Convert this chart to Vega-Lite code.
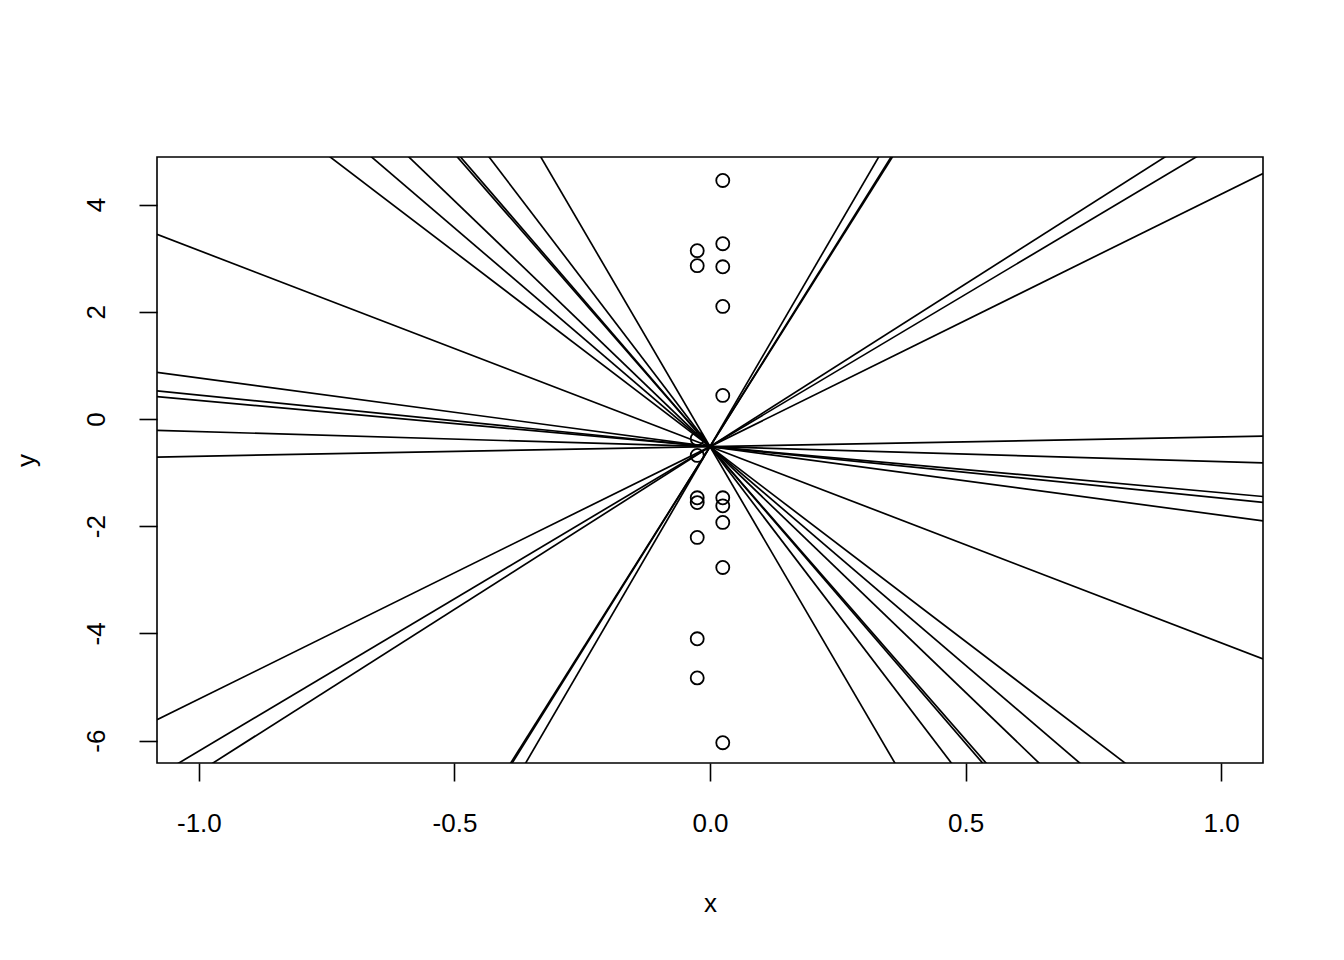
{
  "$schema": "https://vega.github.io/schema/vega-lite/v6.json",
  "width": 1106,
  "height": 606,
  "autosize": "none",
  "padding": {"left": 157, "top": 157, "right": 81, "bottom": 197},
  "background": "white",
  "config": {
    "view": {"stroke": "black", "strokeWidth": 1.6},
    "font": "Liberation Sans",
    "axis": {
      "domain": false,
      "grid": false,
      "ticks": true,
      "tickColor": "black",
      "tickWidth": 1.6,
      "tickSize": 18,
      "labelColor": "black",
      "labelFont": "Liberation Sans",
      "labelFontSize": 26,
      "titleFont": "Liberation Sans",
      "titleFontSize": 26,
      "titleFontWeight": "normal",
      "titleColor": "black"
    }
  },
  "datasets": {
    "pts": [
      {"x": 0.025, "y": 4.45}, {"x": 0.025, "y": 3.27}, {"x": 0.025, "y": 2.84}, {"x": 0.025, "y": 2.10},
      {"x": 0.025, "y": 0.44}, {"x": 0.025, "y": -1.47}, {"x": 0.025, "y": -1.62}, {"x": 0.025, "y": -1.93},
      {"x": 0.025, "y": -2.77}, {"x": 0.025, "y": -6.04},
      {"x": -0.025, "y": 3.14}, {"x": -0.025, "y": 2.86}, {"x": -0.025, "y": -0.37}, {"x": -0.025, "y": -0.68},
      {"x": -0.025, "y": -1.47}, {"x": -0.025, "y": -1.56}, {"x": -0.025, "y": -2.21}, {"x": -0.025, "y": -4.10},
      {"x": -0.025, "y": -4.83}
    ],
    "lines": [
      {"id": 1, "xa": -1.082, "ya": 7.351, "xb": 1.082, "yb": -8.381},
      {"id": 2, "xa": -1.082, "ya": 8.314, "xb": 1.082, "yb": -9.344},
      {"id": 3, "xa": -1.082, "ya": 9.407, "xb": 1.082, "yb": -10.437},
      {"id": 4, "xa": -1.082, "ya": 11.311, "xb": 1.082, "yb": -12.341},
      {"id": 5, "xa": -1.082, "ya": 11.463, "xb": 1.082, "yb": -12.493},
      {"id": 6, "xa": -1.082, "ya": 13.010, "xb": 1.082, "yb": -14.040},
      {"id": 7, "xa": -1.082, "ya": 17.143, "xb": 1.082, "yb": -18.173},
      {"id": 8, "xa": -1.082, "ya": -18.227, "xb": 1.082, "yb": 17.197},
      {"id": 9, "xa": -1.082, "ya": -16.896, "xb": 1.082, "yb": 15.866},
      {"id": 10, "xa": -1.082, "ya": -17.016, "xb": 1.082, "yb": 15.986},
      {"id": 11, "xa": -1.082, "ya": 3.445, "xb": 1.082, "yb": -4.475},
      {"id": 12, "xa": -1.082, "ya": 0.870, "xb": 1.082, "yb": -1.900},
      {"id": 13, "xa": -1.082, "ya": 0.524, "xb": 1.082, "yb": -1.554},
      {"id": 14, "xa": -1.082, "ya": 0.416, "xb": 1.082, "yb": -1.446},
      {"id": 15, "xa": -1.082, "ya": -0.212, "xb": 1.082, "yb": -0.818},
      {"id": 16, "xa": -1.082, "ya": -0.710, "xb": 1.082, "yb": -0.320},
      {"id": 17, "xa": -1.082, "ya": -5.611, "xb": 1.082, "yb": 4.581},
      {"id": 18, "xa": -1.082, "ya": -6.661, "xb": 1.082, "yb": 5.631},
      {"id": 19, "xa": -1.082, "ya": -7.083, "xb": 1.082, "yb": 6.053}
    ]
  },
  "layer": [
    {
      "data": {"name": "lines"},
      "mark": {"type": "rule", "clip": true, "color": "black", "strokeWidth": 1.7},
      "encoding": {
        "x": {"field": "xa", "type": "quantitative",
              "scale": {"domain": [-1.082, 1.082], "nice": false, "zero": false},
              "axis": {"values": [-1, -0.5, 0, 0.5, 1], "labelExpr": "replace(format(datum.value, '.1f'), '\u2212', '-')",
                       "title": "x", "labelPadding": 29, "titlePadding": 54}},
        "x2": {"field": "xb"},
        "y": {"field": "ya", "type": "quantitative",
              "scale": {"domain": [-6.418, 4.888], "nice": false, "zero": false},
              "axis": {"values": [-6, -4, -2, 0, 2, 4], "labelExpr": "replace(format(datum.value, 'd'), '\u2212', '-')",
                       "title": "y", "labelAngle": -90,
                       "labelAlign": "center", "labelBaseline": "bottom", "labelPadding": 30, "titlePadding": 44}},
        "y2": {"field": "yb"}
      }
    },
    {
      "data": {"name": "pts"},
      "mark": {"type": "point", "shape": "circle", "filled": false, "color": "black", "opacity": 1, "strokeWidth": 1.8, "size": 170, "clip": true},
      "encoding": {
        "x": {"field": "x", "type": "quantitative"},
        "y": {"field": "y", "type": "quantitative"}
      }
    }
  ]
}
